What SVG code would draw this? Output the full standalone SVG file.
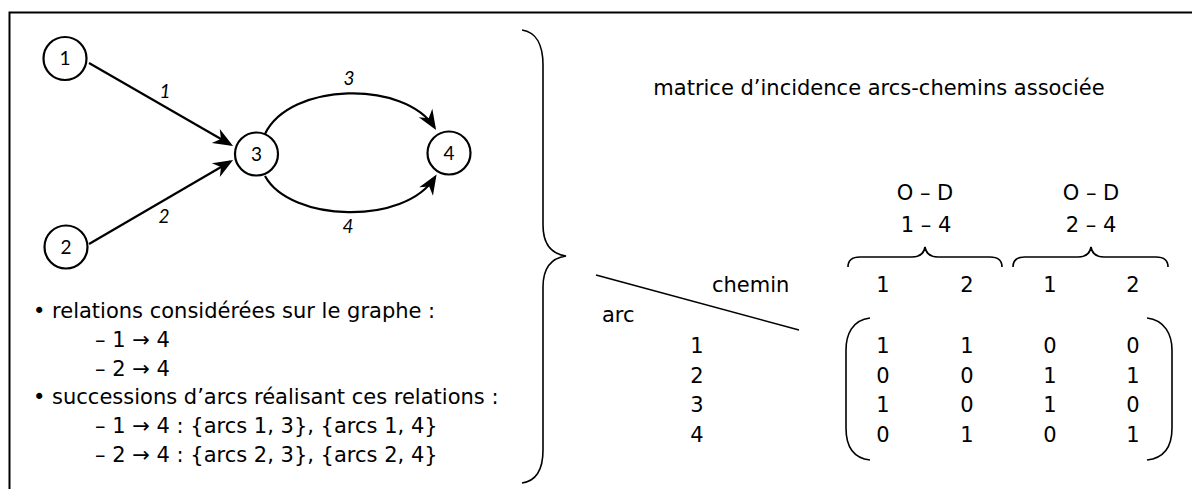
<svg xmlns="http://www.w3.org/2000/svg" width="1192" height="489" viewBox="0 0 1192 489">
<style>
.t{font-family:"DejaVu Sans",Verdana,sans-serif;font-size:21px;fill:#000}
.m{text-anchor:middle}
.nl{font-family:Lato,"Open Sans",sans-serif;font-size:19px;fill:#000;text-anchor:middle}
.al{font-family:Lato,"Open Sans",sans-serif;font-size:19px;font-style:italic;fill:#000;text-anchor:middle}
.node{fill:#fff;stroke:#000;stroke-width:2.2}
.edge{fill:none;stroke:#000;stroke-width:2.2}
.thin{fill:none;stroke:#000;stroke-width:1.6}
</style>
<defs>
<marker id="ah" viewBox="-22 -10 24 20" markerWidth="24" markerHeight="20" refX="-3" refY="0" markerUnits="userSpaceOnUse" orient="auto">
<path d="M0,0 L-20,-8 L-14,0 L-20,8 Z" fill="#000"/>
</marker>
</defs>
<rect width="1192" height="489" fill="#fff"/>
<g id="frame" fill="none" stroke="#000" stroke-width="2">
<path d="M9.5,489 L9.5,12.5 L1192,12.5"/>
</g>
<g id="connectors">
<path class="edge" d="M89,63 L230.5,144.5" marker-end="url(#ah)"/>
<path class="edge" d="M89,244 L230.5,161.5" marker-end="url(#ah)"/>
<path class="edge" d="M265,134 C290,82 405,80 434.5,127.5" marker-end="url(#ah)"/>
<path class="edge" d="M265,176 C290,222 405,226 435,177" marker-end="url(#ah)"/>
<text class="al" x="165" y="98">1</text>
<text class="al" x="164" y="223">2</text>
<text class="al" x="349" y="85">3</text>
<text class="al" x="348" y="233">4</text>
</g>
<g id="node-1"><circle class="node" cx="65" cy="58.5" r="21.5"/><text class="nl" x="65" y="65">1</text></g>
<g id="node-2"><circle class="node" cx="66" cy="247" r="21.5"/><text class="nl" x="66" y="253.5">2</text></g>
<g id="node-3"><circle class="node" cx="256.5" cy="154" r="21.5"/><text class="nl" x="256.5" y="160.5">3</text></g>
<g id="node-4"><circle class="node" cx="449" cy="153" r="21.5"/><text class="nl" x="449" y="159.5">4</text></g>
<g id="left-text" class="t">
<text x="33" y="318">• relations considérées sur le graphe :</text>
<text x="95" y="347">– 1 → 4</text>
<text x="95" y="376">– 2 → 4</text>
<text x="33" y="404">• successions d’arcs réalisant ces relations :</text>
<text x="95" y="433">– 1 → 4 : {arcs 1, 3}, {arcs 1, 4}</text>
<text x="95" y="462">– 2 → 4 : {arcs 2, 3}, {arcs 2, 4}</text>
</g>
<g id="big-brace">
<path class="thin" d="M522,30 C536,32 543,45 543,65 L543,225 C543,245 552,254 566,256 C552,258 543,267 543,287 L543,450 C543,470 536,481 522,483"/>
</g>
<g id="matrix">
<text class="t m" x="879" y="95">matrice d’incidence arcs-chemins associée</text>
<text class="t m" x="925" y="200">O – D</text>
<text class="t m" x="926" y="232">1 – 4</text>
<text class="t m" x="1091" y="200">O – D</text>
<text class="t m" x="1091" y="232">2 – 4</text>
<path class="thin" d="M848,267 C848,261 852,257 860,257 L912,257 C920,257 924,253 925,247 C926,253 930,257 938,257 L990,257 C998,257 1002,261 1002,267"/>
<path class="thin" d="M1013,267 C1013,261 1017,257 1025,257 L1078,257 C1086,257 1090,253 1091,247 C1092,253 1096,257 1104,257 L1156,257 C1164,257 1168,261 1168,267"/>
<line class="thin" x1="596" y1="275" x2="799" y2="330"/>
<text class="t" x="712" y="292">chemin</text>
<text class="t" x="602" y="322">arc</text>
<text class="t m" x="883" y="292">1</text>
<text class="t m" x="967" y="292">2</text>
<text class="t m" x="1050" y="292">1</text>
<text class="t m" x="1133" y="292">2</text>
<text class="t m" x="697" y="353">1</text>
<text class="t m" x="697" y="383">2</text>
<text class="t m" x="697" y="412">3</text>
<text class="t m" x="697" y="442">4</text>
<path class="thin" d="M870,318 C852,320 846,335 846,350 L846,428 C846,445 852,458 870,460"/>
<path class="thin" d="M1147,318 C1165,320 1172,335 1172,350 L1172,428 C1172,445 1165,458 1147,460"/>
<g class="t m">
<text x="883" y="353">1</text><text x="967" y="353">1</text><text x="1050" y="353">0</text><text x="1133" y="353">0</text>
<text x="883" y="383">0</text><text x="967" y="383">0</text><text x="1050" y="383">1</text><text x="1133" y="383">1</text>
<text x="883" y="412">1</text><text x="967" y="412">0</text><text x="1050" y="412">1</text><text x="1133" y="412">0</text>
<text x="883" y="442">0</text><text x="967" y="442">1</text><text x="1050" y="442">0</text><text x="1133" y="442">1</text>
</g>
</g>
</svg>
